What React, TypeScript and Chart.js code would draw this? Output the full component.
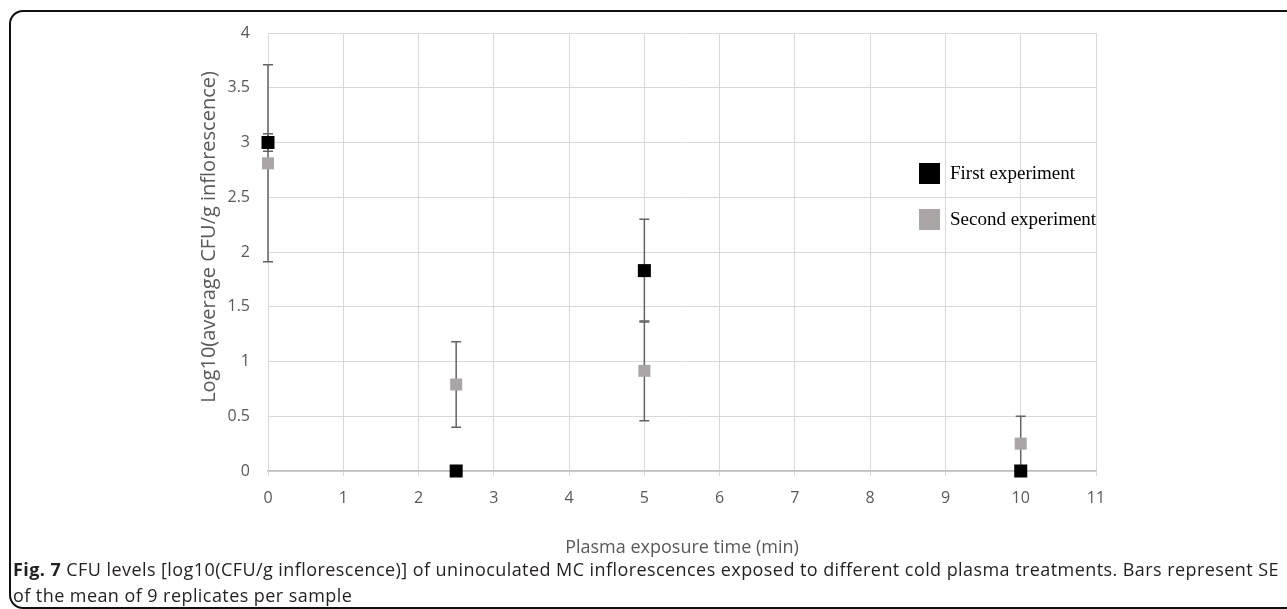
import React, { useEffect, useRef } from "react";
import { Chart, registerables } from "chart.js";

Chart.register(...registerables);

const times = [0, 2.5, 5, 10];
const firstValues = [3.0, 0, 1.83, 0];
const firstErrors = [0.08, 0, 0.47, 0];
const secondValues = [2.81, 0.79, 0.915, 0.25];
const secondErrors = [0.9, 0.39, 0.455, 0.25];
const seriesNames = ["First experiment", "Second experiment"];
const seriesColors = ["#000000", "#aaa6a6"];
const xTitle = "Plasma exposure time (min)";
const yTitle = "Log10(average CFU/g inflorescence)";
const captionBold = "Fig. 7";
const captionLine1 = " CFU levels [log10(CFU/g inflorescence)] of uninoculated MC inflorescences exposed to different cold plasma treatments. Bars represent SE";
const captionLine2 = "of the mean of 9 replicates per sample";

const errorBarPlugin = {
  id: "errorBars",
  beforeDatasetsDraw(chart: any) {
    const { ctx, scales } = chart;
    const xs = scales.x;
    const ys = scales.y;
    ctx.save();
    ctx.strokeStyle = "#646464";
    ctx.lineWidth = 1.5;
    chart.data.datasets.forEach((ds: any) => {
      const errs: number[] = ds.errors || [];
      ds.data.forEach((p: any, i: number) => {
        const e = errs[i];
        if (!e) return;
        const px = xs.getPixelForValue(p.x);
        const top = ys.getPixelForValue(p.y + e);
        const bot = ys.getPixelForValue(p.y - e);
        ctx.beginPath();
        ctx.moveTo(px, top);
        ctx.lineTo(px, bot);
        ctx.moveTo(px - 5, top);
        ctx.lineTo(px + 5, top);
        ctx.moveTo(px - 5, bot);
        ctx.lineTo(px + 5, bot);
        ctx.stroke();
      });
    });
    ctx.restore();
  },
};

const legendPlugin = {
  id: "insideLegend",
  afterDraw(chart: any) {
    const { ctx, chartArea } = chart;
    ctx.save();
    const left = chartArea.right - 177;
    const top0 = chartArea.top + 130;
    ctx.font = "19px 'Liberation Serif'";
    ctx.textBaseline = "middle";
    seriesNames.forEach((name, i) => {
      const top = top0 + i * 46;
      ctx.fillStyle = seriesColors[i];
      ctx.fillRect(left, top, 21, 21);
      ctx.fillStyle = "#000";
      ctx.fillText(name, left + 31, top + 11);
    });
    ctx.restore();
  },
};

const yTitlePlugin = {
  id: "yTitleOffset",
  afterDraw(chart: any) {
    const { ctx, chartArea } = chart;
    ctx.save();
    ctx.translate(chartArea.left - 59, (chartArea.top + chartArea.bottom) / 2 - 15);
    ctx.rotate(-Math.PI / 2);
    ctx.font = "20px 'Open Sans'";
    ctx.fillStyle = "#595959";
    ctx.textAlign = "center";
    ctx.textBaseline = "middle";
    ctx.fillText(yTitle, 0, 0);
    ctx.restore();
  },
};

export default function App() {
  const ref = useRef<HTMLCanvasElement>(null);
  useEffect(() => {
    const mk = (vals: number[]) => times.map((t, i) => ({ x: t, y: vals[i] }));
    const chart = new Chart(ref.current as HTMLCanvasElement, {
      type: "scatter",
      data: {
        datasets: [
          {
            label: seriesNames[0],
            data: mk(firstValues),
            errors: firstErrors,
            pointStyle: "rect",
            pointRadius: 9.2,
            pointHoverRadius: 9.2,
            backgroundColor: seriesColors[0],
            borderWidth: 0,
            clip: false,
          } as any,
          {
            label: seriesNames[1],
            data: mk(secondValues),
            errors: secondErrors,
            pointStyle: "rect",
            pointRadius: 8.5,
            pointHoverRadius: 8.5,
            backgroundColor: seriesColors[1],
            borderWidth: 0,
            clip: false,
          } as any,
        ],
      },
      options: {
        animation: false,
        responsive: false,
        devicePixelRatio: 1,
        layout: { padding: { left: 188, right: 191, top: 33, bottom: 9 } },
        plugins: { legend: { display: false }, tooltip: { enabled: false } },
        scales: {
          x: {
            type: "linear",
            min: 0,
            max: 11,
            afterFit: (s: any) => {
              s.height = 90;
            },
            ticks: {
              stepSize: 1,
              padding: 13,
              color: "#595959",
              font: { family: "'Open Sans'", size: 16 },
            },
            grid: { color: "#d9d9d9", tickLength: 5, tickColor: "#d9d9d9", lineWidth: 1 },
            border: { color: "#bfbfbf", width: 1.5 },
            title: {
              display: true,
              text: xTitle,
              color: "#595959",
              font: { family: "'Open Sans'", size: 18 },
              padding: { top: 4, bottom: 2 },
            },
          },
          y: {
            type: "linear",
            min: 0,
            max: 4,
            afterFit: (s: any) => {
              s.width = 80;
            },
            ticks: {
              stepSize: 0.5,
              padding: 18,
              color: "#595959",
              font: { family: "'Open Sans'", size: 16 },
              callback: (v: any) => String(Number(v)),
            },
            grid: { color: "#d9d9d9", drawTicks: false, lineWidth: 1 },
            border: { color: "#d9d9d9" },
            title: { display: false },
          },
        },
      } as any,
      plugins: [errorBarPlugin, legendPlugin, yTitlePlugin],
    });
    return () => chart.destroy();
  }, []);

  return (
    <div style={{ position: "fixed", left: 0, top: 0, width: 1287, height: 609, background: "#fff", overflow: "hidden" }}>
      <div
        style={{
          position: "absolute",
          left: 9,
          top: 10,
          width: 1300,
          height: 599,
          border: "2px solid #111",
          borderRadius: 14,
          boxSizing: "border-box",
        }}
      />
      <canvas ref={ref} width={1287} height={570} style={{ position: "absolute", left: 0, top: 0 }} />
      <div
        style={{
          position: "absolute",
          left: 13,
          top: 556,
          fontFamily: "'Open Sans'",
          fontSize: 18,
          lineHeight: "26px",
          letterSpacing: "0.43px",
          color: "#231f20",
          whiteSpace: "nowrap",
        }}
      >
        <div>
          <b>{captionBold}</b>
          {captionLine1}
        </div>
        <div>{captionLine2}</div>
      </div>
    </div>
  );
}
